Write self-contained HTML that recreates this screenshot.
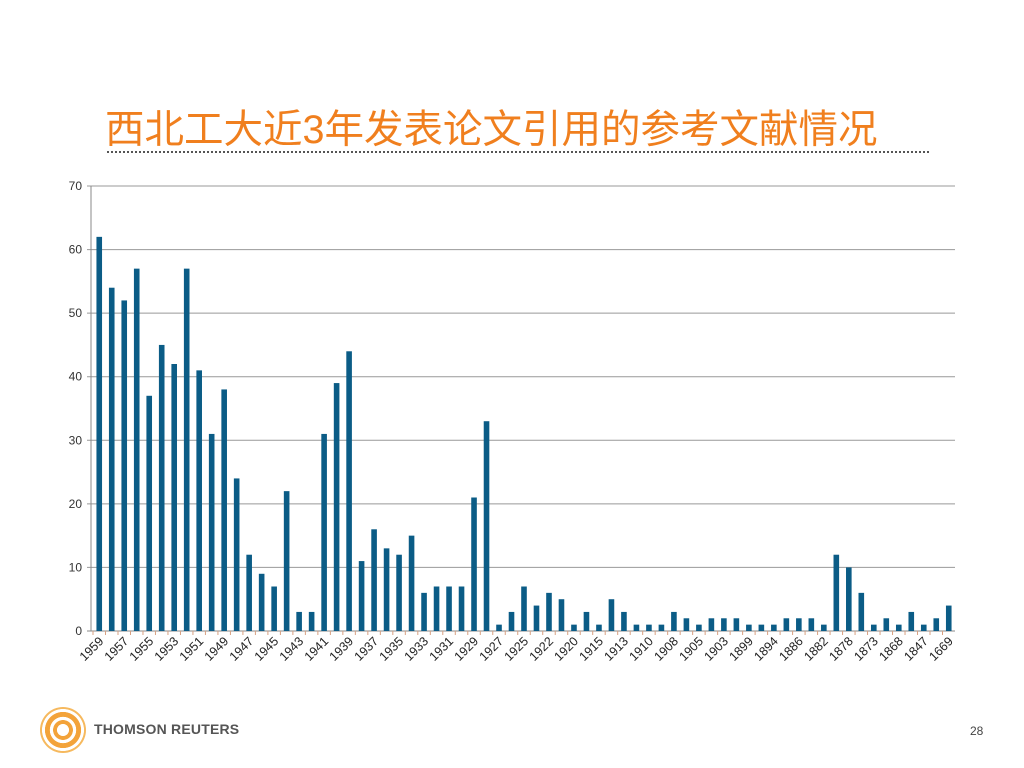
<!DOCTYPE html>
<html><head><meta charset="utf-8"><style>
body{margin:0;width:1024px;height:768px;background:#fff;overflow:hidden;font-family:"Liberation Sans","Noto Sans CJK SC",sans-serif;}
#title{position:absolute;left:105px;top:105px;font-size:39.5px;color:#F07F1E;font-family:"Liberation Sans","Noto Sans CJK SC",sans-serif;white-space:nowrap;line-height:50px;}
#rule{position:absolute;left:107px;top:151px;width:822px;border-top:2px dotted #555;}
svg{position:absolute;left:0;top:0;}
</style></head><body>
<div id="title">西北工大近<span style="font-family:'Liberation Sans',sans-serif">3</span>年发表论文引用的参考文献情况</div>
<div id="rule"></div>
<svg id="chart" width="1024" height="768"></svg>
<script>
const categories=["1959","1958","1957","1956","1955","1954","1953","1952","1951","1950","1949","1948","1947","1946","1945","1944","1943","1942","1941","1940","1939","1938","1937","1936","1935","1934","1933","1932","1931","1930","1929","1928","1927","1926","1925","1923","1922","1921","1920","1916","1915","1914","1913","1911","1910","1909","1908","1906","1905","1904","1903","1900","1899","1895","1894","1887","1886","1883","1882","1879","1878","1874","1873","1869","1868","1856","1847","1680","1669"];
const values=[62,54,52,57,37,45,42,57,41,31,38,24,12,9,7,22,3,3,31,39,44,11,16,13,12,15,6,7,7,7,21,33,1,3,7,4,6,5,1,3,1,5,3,1,1,1,3,2,1,2,2,2,1,1,1,2,2,2,1,12,10,6,1,2,1,3,1,2,4];
const yTicks=[0,10,20,30,40,50,60,70];
const NS="http://www.w3.org/2000/svg";
const svg=document.getElementById('chart');
const L=91,R=955,T=186,B=631,YMAX=70;
const PL=93;
const y=v=>B-(v/YMAX)*(B-T);
const step=(R-PL)/values.length;
const x=i=>PL+step*(i+0.5);
function mk(t,a){const e=document.createElementNS(NS,t);for(const k in a)e.setAttribute(k,a[k]);svg.appendChild(e);return e;}
yTicks.forEach(t=>{
 const g=mk('line',{x1:L-4,x2:R,y1:y(t),y2:y(t),stroke:t===0?'#888':'#999','stroke-width':1});
 
 
 const tx=mk('text',{x:L-9,y:y(t)+4,'text-anchor':'end','font-size':12,fill:'#333','font-family':'Liberation Sans,sans-serif'});
 tx.textContent=t;
 
 
});
const ax=mk('line',{x1:L,x2:L,y1:T,y2:B,stroke:'#888'});


values.forEach((v,i)=>{
 const b=mk('rect',{x:x(i)-2.8,y:y(v),width:5.6,height:B-y(v),fill:'#0B5C86'});
 
 
 const tk=mk('line',{x1:PL+step*i,x2:PL+step*i,y1:B,y2:B+4,stroke:'#D9A080'});
 
 
 if(i%2===0){
  const tx=mk('text',{x:x(i)+5,y:B+11,'text-anchor':'end','font-size':12.5,fill:'#222','font-family':'Liberation Sans,sans-serif',transform:`rotate(-45 ${x(i)+5} ${B+11})`});
  tx.textContent=categories[i];
  
  
 }
});
</script>
<div style="position:absolute;left:40px;top:707px;width:46px;height:46px;border-radius:50%;background:radial-gradient(circle,#fff 0 18%,#F3A33A 19% 30%,#fff 31% 40%,#F3A33A 41% 55%,#fff 56% 64%,#F6B95E 65% 80%,#fff 81%);"></div>
<div style="position:absolute;left:94px;top:721px;font-size:14px;font-weight:bold;color:#555;letter-spacing:0.2px;">THOMSON REUTERS</div>
<div style="position:absolute;left:970px;top:724px;font-size:12px;color:#444;">28</div>
</body></html>
